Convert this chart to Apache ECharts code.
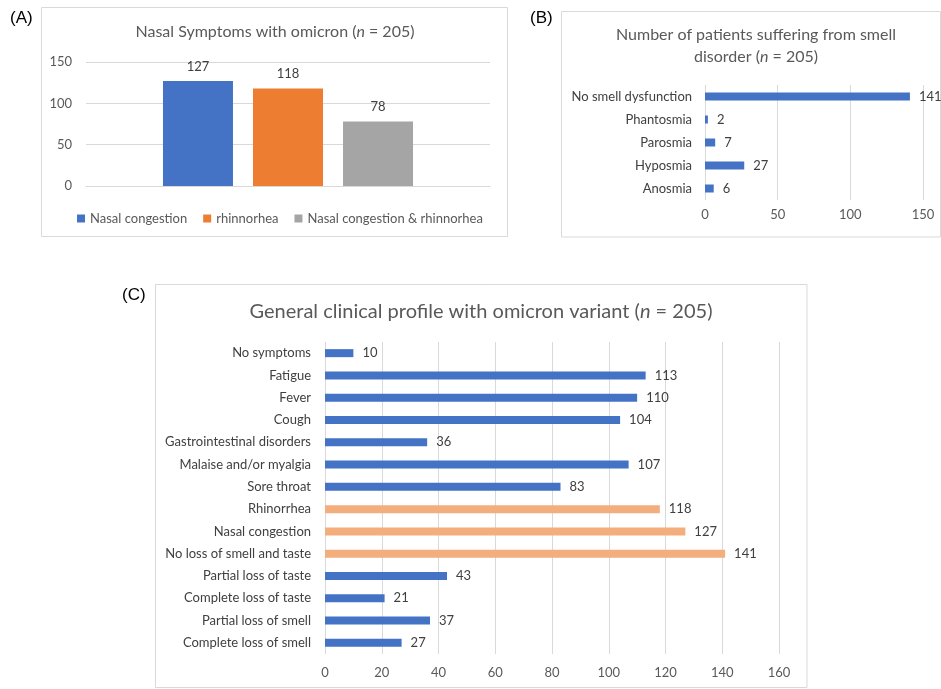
<!DOCTYPE html>
<html>
<head>
<meta charset="utf-8">
<script src="https://cdn.jsdelivr.net/npm/echarts@6/dist/echarts.min.js"></script>
<style>
    html, body { margin: 0; padding: 0; background: #fff; }
    #chart { width: 941px; height: 689px; }
</style>
</head>
<body>
<div id="chart"></div>
<script>
    // (A) nasal symptoms, one bar per item
    const nasalNames = ['Nasal congestion', 'rhinnorhea', 'Nasal congestion & rhinnorhea'];
    const nasalValues = [127, 118, 78];
    const nasalTicks = [0, 50, 100, 150];

    // (B) smell disorders
    const smellCategories = ['No smell dysfunction', 'Phantosmia', 'Parosmia', 'Hyposmia', 'Anosmia'];
    const smellValues = [141, 2, 7, 27, 6];
    const smellTicks = [0, 50, 100, 150];

    // (C) general clinical profile, listed top to bottom
    const profileCategories = [
        'No symptoms', 'Fatigue', 'Fever', 'Cough', 'Gastrointestinal disorders',
        'Malaise and/or myalgia', 'Sore throat', 'Rhinorrhea', 'Nasal congestion',
        'No loss of smell and taste', 'Partial loss of taste', 'Complete loss of taste',
        'Partial loss of smell', 'Complete loss of smell'
    ];
    const profileValues = [10, 113, 110, 104, 36, 107, 83, 118, 127, 141, 43, 21, 37, 27];
    const profileHighlighted = ['Rhinorrhea', 'Nasal congestion', 'No loss of smell and taste'];
    const profileTicks = [0, 20, 40, 60, 80, 100, 120, 140, 160];

    const FONT = 'Lato';
    const BLUE = '#4472C4';
    const nasalColors = ['#4472C4', '#ED7D31', '#A5A5A5'];
    const SALMON = '#F4AD7D';
    const GRID_LINE = '#D9D9D9';
    const AXIS_TEXT = '#595959';
    const VALUE_TEXT = '#404040';

    function step(ticks) {
        return ticks[1] - ticks[0];
    }

    function box(x, y, w, h) {
        return {
            type: 'rect',
            shape: {x: x, y: y, width: w, height: h},
            style: {fill: 'none', stroke: GRID_LINE, lineWidth: 1},
            silent: true
        };
    }

    function panelLabel(text, x, y) {
        return {
            type: 'text', x: x, y: y,
            style: {text: text, font: '17px "Liberation Sans"', fill: '#000', verticalAlign: 'middle'}
        };
    }

    // titles carry an italic "n"
    function title(x, y, size, before, after) {
        return {
            type: 'text', x: x, y: y,
            style: {
                text: '{a|' + before + '}{i|n}{a|' + after + '}',
                align: 'center', verticalAlign: 'middle',
                rich: {
                    a: {fontFamily: FONT, fontSize: size, fill: AXIS_TEXT, color: AXIS_TEXT},
                    i: {fontFamily: FONT, fontSize: size, fontStyle: 'italic', fill: AXIS_TEXT, color: AXIS_TEXT}
                }
            }
        };
    }

    const chart = echarts.init(document.getElementById('chart'));

    const option = {
        animation: false,
        backgroundColor: '#fff',
        textStyle: {fontFamily: FONT},
        graphic: [
            box(41.5, 7.5, 466, 229),
            box(561.5, 11.5, 379, 225.5),
            box(155.5, 284.5, 651.5, 403),
            panelLabel('(A)', 10, 18),
            panelLabel('(B)', 530, 18),
            panelLabel('(C)', 122, 295),
            title(275, 32, 16, 'Nasal Symptoms with omicron (', ' = 205)'),
            {
                type: 'text', x: 756, y: 35,
                style: {
                    text: 'Number of patients suffering from smell',
                    fontFamily: FONT, fontSize: 16, fill: AXIS_TEXT,
                    align: 'center', verticalAlign: 'middle'
                }
            },
            title(756, 57, 16, 'disorder (', ' = 205)'),
            title(481, 312, 20, 'General clinical profile with omicron variant (', ' = 205)')
        ],
        legend: {
            data: nasalNames,
            left: 72,
            top: 207,
            icon: 'rect',
            itemWidth: 8,
            itemHeight: 8,
            itemGap: 16,
            textStyle: {fontFamily: FONT, fontSize: 13, color: AXIS_TEXT}
        },
        grid: [
            {left: 86, top: 62, width: 404, height: 124},
            {left: 705, top: 85, width: 218, height: 115},
            {left: 325, top: 342, width: 454, height: 312}
        ],
        xAxis: [
            {
                gridIndex: 0, type: 'category', data: [''],
                axisLine: {lineStyle: {color: GRID_LINE}},
                axisTick: {show: false}, axisLabel: {show: false}
            },
            {
                gridIndex: 1, type: 'value',
                min: smellTicks[0], max: smellTicks[smellTicks.length - 1], interval: step(smellTicks),
                axisLine: {show: false}, axisTick: {show: false},
                axisLabel: {fontSize: 13, color: AXIS_TEXT, margin: 8},
                splitLine: {lineStyle: {color: GRID_LINE}}
            },
            {
                gridIndex: 2, type: 'value',
                min: profileTicks[0], max: profileTicks[profileTicks.length - 1], interval: step(profileTicks),
                axisLine: {show: false}, axisTick: {show: false},
                axisLabel: {fontSize: 13, color: AXIS_TEXT, margin: 12},
                splitLine: {lineStyle: {color: GRID_LINE}}
            }
        ],
        yAxis: [
            {
                gridIndex: 0, type: 'value',
                min: nasalTicks[0], max: nasalTicks[nasalTicks.length - 1], interval: step(nasalTicks),
                axisLine: {show: false}, axisTick: {show: false},
                axisLabel: {fontSize: 13, color: AXIS_TEXT, margin: 14},
                splitLine: {lineStyle: {color: GRID_LINE}}
            },
            {
                gridIndex: 1, type: 'category', data: smellCategories, inverse: true,
                axisLine: {show: false}, axisTick: {show: false},
                axisLabel: {fontSize: 13, color: VALUE_TEXT, margin: 13}
            },
            {
                gridIndex: 2, type: 'category', data: profileCategories, inverse: true,
                axisLine: {show: false}, axisTick: {show: false},
                axisLabel: {fontSize: 13, color: VALUE_TEXT, margin: 14}
            }
        ],
        series: [
            ...nasalNames.map((name, i) => ({
                name: name,
                type: 'bar',
                xAxisIndex: 0, yAxisIndex: 0,
                barWidth: 70,
                barGap: '28.6%',
                itemStyle: {color: nasalColors[i]},
                label: {show: true, position: 'top', distance: 8, fontSize: 13, color: VALUE_TEXT},
                data: [nasalValues[i]]
            })),
            {
                type: 'bar',
                xAxisIndex: 1, yAxisIndex: 1,
                barWidth: 8,
                itemStyle: {color: BLUE},
                label: {show: true, position: 'right', distance: 9, fontSize: 13, color: VALUE_TEXT},
                data: smellValues
            },
            {
                type: 'bar',
                xAxisIndex: 2, yAxisIndex: 2,
                barWidth: 8,
                itemStyle: {
                    color: p => profileHighlighted.indexOf(p.name) >= 0 ? SALMON : BLUE
                },
                label: {show: true, position: 'right', distance: 9, fontSize: 13, color: VALUE_TEXT},
                data: profileValues
            }
        ]
    };

    chart.setOption(option);
</script>
</body>
</html>
